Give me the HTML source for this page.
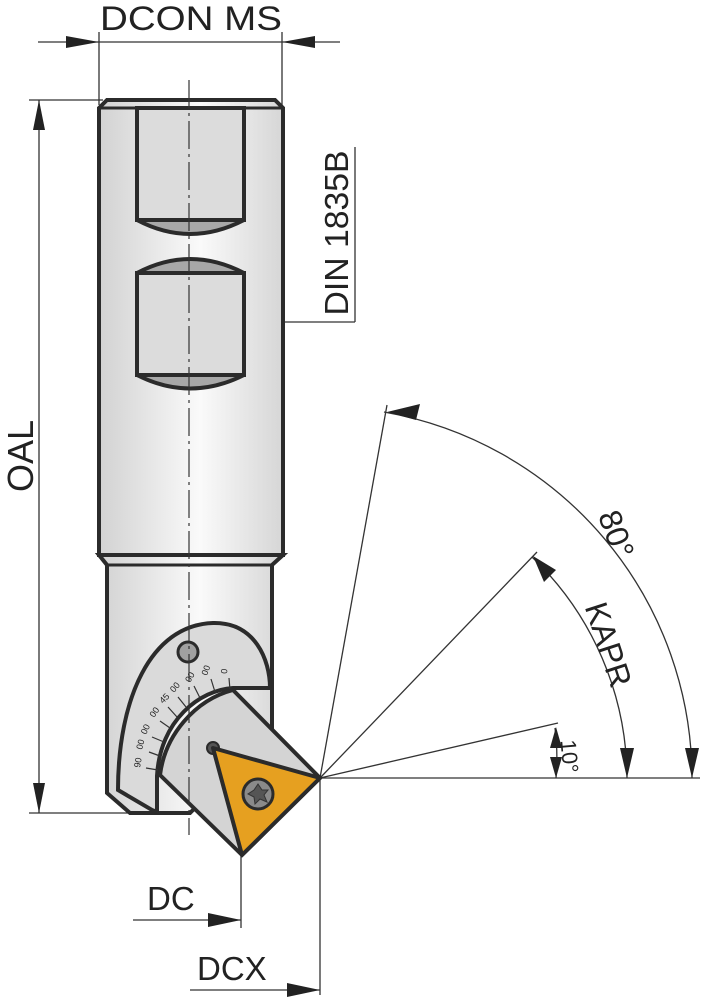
<!DOCTYPE html>
<html><head><meta charset="utf-8"><style>
html,body{margin:0;padding:0;background:#fff;}
svg{display:block;}
text{font-family:"Liberation Sans",Arial,sans-serif;fill:#222;}
</style></head><body>
<svg width="703" height="1000" viewBox="0 0 703 1000" xmlns="http://www.w3.org/2000/svg">
<defs>
<linearGradient id="g" x1="0" x2="1" y1="0" y2="0">
<stop offset="0" stop-color="#d2d2d2"/><stop offset="0.55" stop-color="#fafafa"/><stop offset="1" stop-color="#d6d6d6"/>
</linearGradient>
</defs>
<g stroke="#333" stroke-width="1.3" fill="none">
<line x1="38" y1="42" x2="340" y2="42"/>
<line x1="99" y1="32" x2="99" y2="105"/>
<line x1="282" y1="32" x2="282" y2="105"/>
<line x1="29" y1="100" x2="103" y2="100"/>
<line x1="29" y1="813" x2="130" y2="813"/>
<line x1="39" y1="100" x2="39" y2="813"/>
<line x1="355" y1="147" x2="355" y2="322"/>
<line x1="262" y1="322" x2="355" y2="322"/>
<line x1="320" y1="778" x2="700" y2="778"/>
<line x1="320" y1="778" x2="387" y2="405"/>
<line x1="320" y1="778" x2="537" y2="552"/>
<line x1="320" y1="778" x2="558" y2="723"/>
<path d="M384 412 A372 372 0 0 1 692 778"/>
<path d="M532 557 A307 307 0 0 1 627 778"/>
<path d="M555 728 A236 236 0 0 1 556 778"/>
<line x1="241" y1="855" x2="241" y2="928"/>
<line x1="133" y1="920" x2="241" y2="920"/>
<line x1="320" y1="778" x2="320" y2="995"/>
<line x1="190" y1="990" x2="320" y2="990"/>
</g>
<g fill="#222">
<polygon points="99,42 66,36 66,48"/>
<polygon points="282,42 315,36 315,48"/>
<polygon points="39,100 33,130 45,130"/>
<polygon points="39,813 33,783 45,783"/>
<polygon points="387,412 420,404 416,420"/>
<polygon points="692,778 685,748 699,748"/>
<polygon points="533,556 556,570 544,582"/>
<polygon points="627,778 620,748 634,748"/>
<polygon points="556,727 550,748 562,748"/>
<polygon points="556,778 550,757 562,757"/>
<polygon points="241,920 208,913 208,927"/>
<polygon points="320,990 287,983 287,997"/>
</g>
<text x="191" y="30" font-size="34" text-anchor="middle" textLength="182" lengthAdjust="spacingAndGlyphs">DCON MS</text>
<text transform="translate(33,456) rotate(-90)" font-size="36" text-anchor="middle">OAL</text>
<text transform="translate(348,233) rotate(-90)" font-size="33" text-anchor="middle" textLength="165" lengthAdjust="spacingAndGlyphs">DIN 1835B</text>
<text transform="translate(606,538) rotate(70)" font-size="32" text-anchor="middle">80°</text>
<text transform="translate(598,648) rotate(72)" font-size="32" text-anchor="middle">KAPR</text>
<text transform="translate(562,757) rotate(85)" font-size="22" text-anchor="middle">10°</text>
<text x="147" y="910" font-size="33">DC</text>
<text x="197" y="980" font-size="33">DCX</text>
<!-- shank -->
<path d="M99 108 L107 100 L275 100 L283 108 L283 555 L99 555 Z" fill="url(#g)" stroke="#2b2b2b" stroke-width="4"/>
<line x1="99" y1="108" x2="283" y2="108" stroke="#2b2b2b" stroke-width="3"/>
<path d="M137 108 L137 220 L244 220 L244 108 Z" fill="#dcdcdc" stroke="#2b2b2b" stroke-width="4"/>
<path d="M137 220 Q190 248 244 220 Z" fill="#a8a8a8" stroke="#2b2b2b" stroke-width="4"/>
<path d="M137 273 L137 375 L244 375 L244 273 Z" fill="#dcdcdc" stroke="#2b2b2b" stroke-width="4"/>
<path d="M137 273 Q190 245 244 273 Z" fill="#a8a8a8" stroke="#2b2b2b" stroke-width="4"/>
<path d="M137 375 Q190 402 244 375 Z" fill="#a8a8a8" stroke="#2b2b2b" stroke-width="4"/>
<!-- neck -->
<path d="M99 555 L107 565 L107 793 L130 813 L190 813 L272 730 L272 565 L283 555 Z" fill="url(#g)" stroke="#2b2b2b" stroke-width="4"/>
<line x1="107" y1="565" x2="272" y2="565" stroke="#2b2b2b" stroke-width="3"/>
<!-- arc band -->
<path d="M118 790 C118 700 150 625 213 623 C255 622 270 660 270 688 L233 688 C200 690 160 720 157 776 L157 812 L152 810 Z" fill="#dadada" stroke="#2b2b2b" stroke-width="4"/>
<line x1="157" y1="776" x2="157" y2="812" stroke="#2b2b2b" stroke-width="4"/>
<circle cx="188" cy="652" r="10" fill="#a0a0a0" stroke="#2b2b2b" stroke-width="3"/>
<g stroke="#333" stroke-width="1.2">
<line x1="230" y1="690" x2="229" y2="678"/>
<line x1="215" y1="692" x2="211" y2="679"/>
<line x1="200" y1="698" x2="194" y2="686"/>
<line x1="186" y1="707" x2="178" y2="697"/>
<line x1="177" y1="717" x2="168" y2="707"/>
<line x1="170" y1="728" x2="160" y2="721"/>
<line x1="164" y1="742" x2="152" y2="737"/>
<line x1="160" y1="756" x2="149" y2="752"/>
<line x1="158" y1="770" x2="146" y2="768"/>
</g>
<g font-size="9" fill="#444">
<text transform="translate(227,674) rotate(-85)">0</text>
<text transform="translate(207,676) rotate(-70)">00</text>
<text transform="translate(190,683) rotate(-60)">00</text>
<text transform="translate(174,693) rotate(-50)">00</text>
<text transform="translate(163,704) rotate(-45)">45</text>
<text transform="translate(154,718) rotate(-55)">00</text>
<text transform="translate(146,735) rotate(-65)">00</text>
<text transform="translate(142,750) rotate(-75)">00</text>
<text transform="translate(140,768) rotate(-80)">90</text>
</g>
<path d="M233 690 L320 778 L242 855 L160 775 C165 735 195 700 233 690 Z" fill="#d4d4d4" stroke="#2b2b2b" stroke-width="4"/>
<line x1="189" y1="80" x2="189" y2="835" stroke="#333" stroke-width="1.2" stroke-dasharray="28,5,3,5"/>
<circle cx="213" cy="748" r="6" fill="#555" stroke="#2b2b2b" stroke-width="2"/>
<polygon points="213,748 320,778 242,855" fill="#e6a020" stroke="#2b2b2b" stroke-width="4" stroke-linejoin="round"/>
<circle cx="258" cy="794" r="15" fill="#8a8a8a" stroke="#2b2b2b" stroke-width="3"/>
<polygon points="258,784 262,790 268,790 264,795 267,802 260,799 255,804 254,797 248,794 254,790" fill="#555" stroke="#333" stroke-width="1"/>
</svg>
</body></html>
